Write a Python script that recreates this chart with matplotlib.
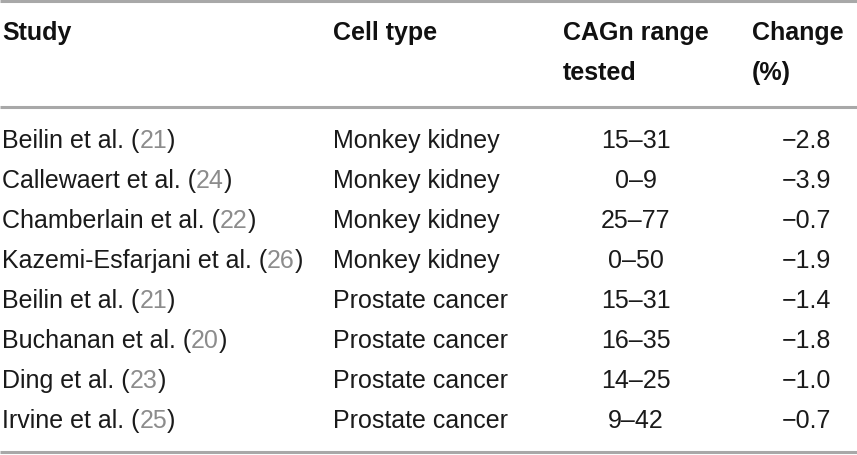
import matplotlib
matplotlib.use("Agg")
import matplotlib.pyplot as plt

studies = ["Beilin et al.", "Callewaert et al.", "Chamberlain et al.",
           "Kazemi-Esfarjani et al.", "Beilin et al.", "Buchanan et al.",
           "Ding et al.", "Irvine et al."]
refs = ["21", "24", "22", "26", "21", "20", "23", "25"]
cell_types = ["Monkey kidney"] * 4 + ["Prostate cancer"] * 4
cag_ranges = ["15–31", "0–9", "25–77", "0–50", "15–31", "16–35", "14–25", "9–42"]
changes = [-2.8, -3.9, -0.7, -1.9, -1.4, -1.8, -1.0, -0.7]

W, H = 857, 456
fig = plt.figure(figsize=(W / 100, H / 100), dpi=100)
ax = fig.add_axes([0, 0, 1, 1])
ax.set_xlim(0, W)
ax.set_ylim(H, 0)
ax.axis("off")

fam = ["Liberation Sans", "DejaVu Sans"]
fs = 18
line_c = "#a8a8a8"

# rules
for y in [1.5, 108, 453]:
    ax.plot([0, W], [y, y], color=line_c, lw=2.2, solid_capstyle="butt")

# header
hk = dict(fontsize=fs, fontweight="bold", family=fam, va="center", color="#111111")
ax.text(2, 33, "Study", **hk)
ax.text(333, 33, "Cell type", **hk)
ax.text(563, 33, "CAGn range", **hk)
ax.text(563, 73, "tested", **hk)
ax.text(752, 33, "Change", **hk)
ax.text(752, 73, "(%)", **hk)

bk = dict(fontsize=fs, family=fam, va="center", color="#1a1a1a")
for i in range(len(studies)):
    y = 141 + i * 40
    t = ax.text(2, y, studies[i] + " (", **bk)
    t2 = ax.annotate(refs[i], xycoords=t, xy=(1, 0.5), va="center",
                     fontsize=fs, family=fam, color="#8c8c8c")
    ax.annotate(")", xycoords=t2, xy=(1, 0.5), va="center",
                fontsize=fs, family=fam, color="#1a1a1a")
    ax.text(333, y, cell_types[i], **bk)
    ax.text(636, y, cag_ranges[i], ha="center", **bk)
    ax.text(831, y, ("%.1f" % changes[i]).replace("-", "−"), ha="right", **bk)

fig.savefig("out.png", dpi=100)
